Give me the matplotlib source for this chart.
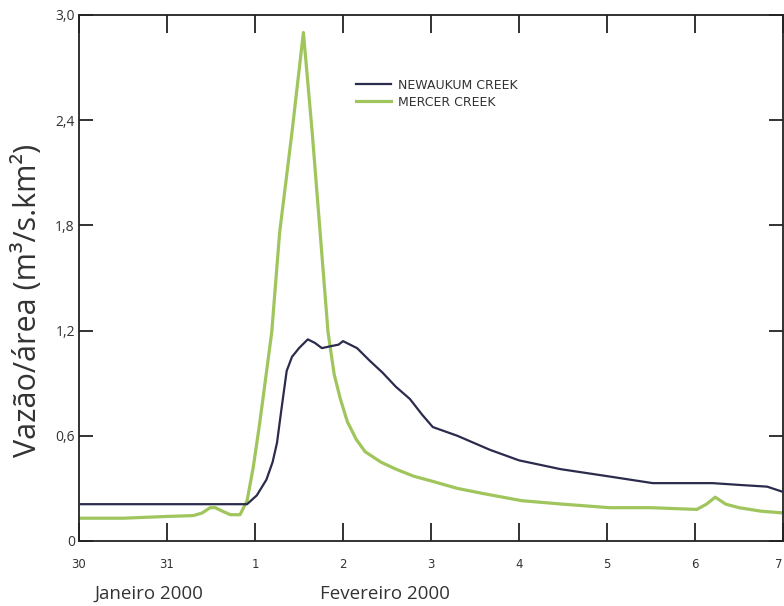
import matplotlib
matplotlib.use("Agg")
import matplotlib.pyplot as plt
from matplotlib.ticker import FixedLocator

# x = days since 30 Jan 2000 00:00
newaukum_x = [0, 0.3, 0.6, 1.0, 1.3, 1.6, 1.91, 2.02, 2.13, 2.2, 2.25, 2.3, 2.36, 2.42,
              2.5, 2.6, 2.68, 2.76, 2.85, 2.95, 3.0, 3.08, 3.16, 3.3, 3.45, 3.6, 3.76,
              3.9, 4.02, 4.3, 4.67, 5.0, 5.47, 6.0, 6.52, 7.0, 7.2, 7.5, 7.82, 8.0]
newaukum_y = [0.21, 0.21, 0.21, 0.21, 0.21, 0.21, 0.21, 0.26, 0.35, 0.45, 0.56, 0.75, 0.97, 1.05,
              1.10, 1.15, 1.13, 1.10, 1.11, 1.12, 1.14, 1.12, 1.10, 1.03, 0.96, 0.88, 0.81,
              0.72, 0.65, 0.60, 0.52, 0.46, 0.41, 0.37, 0.33, 0.33, 0.33, 0.32, 0.31, 0.28]

mercer_x = [0, 0.5, 1.0, 1.3, 1.4, 1.49, 1.55, 1.63, 1.72, 1.83, 1.91, 1.98, 2.05, 2.09,
            2.19, 2.28, 2.42, 2.55, 2.65, 2.74, 2.83, 2.9, 2.97, 3.05, 3.15, 3.25, 3.43,
            3.6, 3.8, 4.02, 4.3, 4.6, 5.03, 5.5, 6.03, 6.5, 7.02, 7.13, 7.23, 7.35, 7.5,
            7.75, 8.0]
mercer_y = [0.13, 0.13, 0.14, 0.145, 0.16, 0.19, 0.19, 0.17, 0.15, 0.15, 0.23, 0.42, 0.66, 0.81,
            1.19, 1.76, 2.33, 2.90, 2.33, 1.76, 1.19, 0.95, 0.81, 0.68, 0.58, 0.51, 0.45,
            0.41, 0.37, 0.34, 0.30, 0.27, 0.23, 0.21, 0.19, 0.19, 0.18, 0.21, 0.25, 0.21, 0.19,
            0.17, 0.16]

day_ticks = [0, 1, 2, 3, 4, 5, 6, 7, 8]
day_labels = ["30", "31", "1", "2", "3", "4", "5", "6", "7"]
y_ticks = [0, 0.6, 1.2, 1.8, 2.4, 3.0]
y_labels = ["0", "0,6", "1,2", "1,8", "2,4", "3,0"]

dark = "#2b2b4d"
green = "#9fc55c"
axis_col = "#222222"
txt_col = "#333333"

fig = plt.figure(figsize=(7.84, 6.06), dpi=100)
ax = fig.add_axes([79 / 784, 65 / 606, 704 / 784, 526 / 606])

ax.plot(newaukum_x, newaukum_y, color=dark, lw=1.6, label="NEWAUKUM CREEK", zorder=3)
ax.plot(mercer_x, mercer_y, color=green, lw=2.3, label="MERCER CREEK", zorder=2)

ax.set_xlim(0, 8)
ax.set_ylim(0, 3.0)

for s in ax.spines.values():
    s.set_color(axis_col)
    s.set_linewidth(1.3)

ax.set_xticks(day_ticks)
ax.set_xticklabels(day_labels, family="DejaVu Sans", fontsize=8.5, color=txt_col)
ax.get_xticklabels()[-1].set_horizontalalignment("right")
ax.set_yticks(y_ticks)
ax.set_yticklabels(y_labels, family="Open Sans", fontsize=10, color=txt_col)
ax.tick_params(axis="x", direction="in", length=13, width=1.3, color=axis_col,
               top=True, pad=12)
ax.tick_params(axis="y", direction="in", length=10, width=1.3, color=axis_col,
               right=True, pad=3)
# longer crossing tick at 1 Feb
ax.xaxis.set_minor_locator(FixedLocator([2]))
ax.tick_params(axis="x", which="minor", direction="inout", length=28, width=1.3,
               color=axis_col, top=False)

fig.text(28 / 784, 1 - 300 / 606, "Vazão/área (m³/s.km²)", family="Open Sans",
         fontsize=22, color=txt_col, rotation=90, ha="center", va="center")

fig.text(149 / 784, 1 - 594 / 606, "Janeiro 2000", family="Open Sans", fontsize=13.5,
         color=txt_col, ha="center", va="center")
fig.text(385 / 784, 1 - 594 / 606, "Fevereiro 2000", family="Open Sans", fontsize=13.5,
         color=txt_col, ha="center", va="center")

leg = ax.legend(loc="upper left", bbox_to_anchor=(0.378, 0.9), frameon=False,
                handlelength=2.8, handletextpad=0.5, labelspacing=0.3,
                prop={"family": "DejaVu Sans", "size": 9})
for t in leg.get_texts():
    t.set_color(txt_col)

fig.savefig("out.png", dpi=100)
